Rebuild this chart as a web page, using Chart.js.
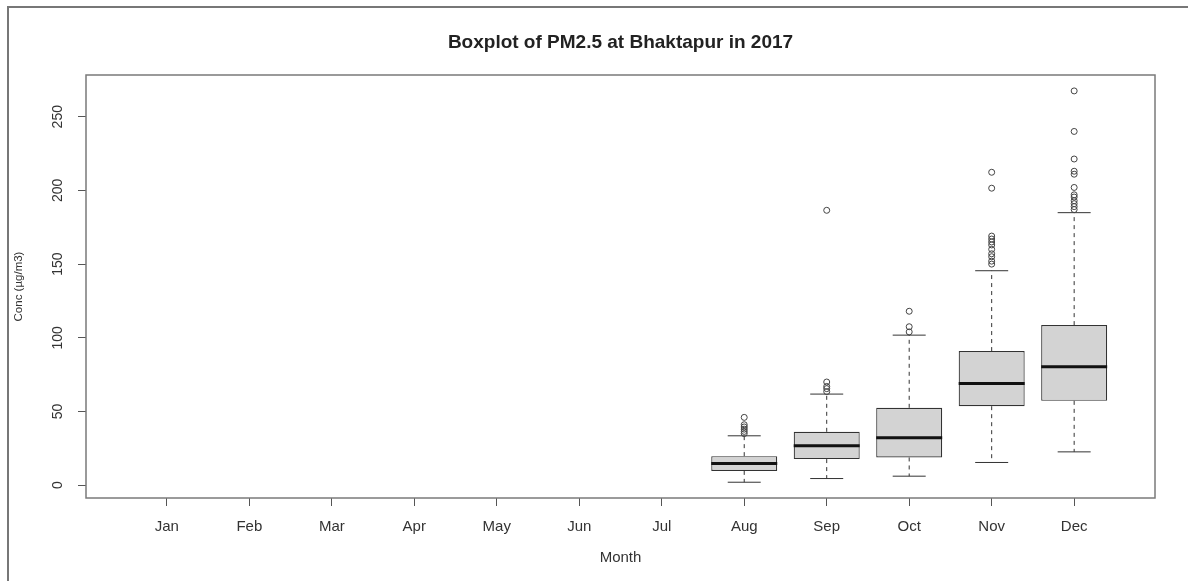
<!DOCTYPE html>
<html>
<head>
<meta charset="utf-8">
<script src="https://cdn.jsdelivr.net/npm/chart.js@4"></script>
<style>
  html, body { margin: 0; padding: 0; background: #fff; }
  #wrap { position: absolute; left: 0; top: 0; width: 1188px; height: 581px; }
  #edge { position: absolute; left: 7px; top: 6px; width: 1181px; height: 575px;
          border-left: 2px solid #777; border-top: 2px solid #777; pointer-events: none; box-sizing: border-box; }
</style>
</head>
<body>
<div id="wrap"><canvas id="c"></canvas></div>
<div id="edge"></div>
<script>
// ---- data ----
const months = ['Jan','Feb','Mar','Apr','May','Jun','Jul','Aug','Sep','Oct','Nov','Dec'];
const q1          = [null,null,null,null,null,null,null,  9.7, 17.7, 18.8,  53.6,  57.2];
const medians     = [null,null,null,null,null,null,null, 14.7, 26.7, 32.1,  69.0,  80.3];
const q3          = [null,null,null,null,null,null,null, 19.7, 36.2, 52.5,  91.0, 108.6];
const whiskerLow  = [null,null,null,null,null,null,null,  2.0,  4.5,  6.1,  15.4,  22.6];
const whiskerHigh = [null,null,null,null,null,null,null, 33.5, 61.8, 101.8, 145.5, 184.9];
const outliers = {
  Aug: [35, 36.5, 38, 39.5, 41, 46],
  Sep: [63.5, 65.5, 67, 70, 186.5],
  Oct: [104, 107.5, 118],
  Nov: [150, 152, 155, 157, 160, 163, 165, 167, 169, 201.5, 212.3],
  Dec: [187, 189, 191, 193, 195.5, 197, 202, 211, 213, 221.3, 240, 267.5]
};
const yTicks = [0, 50, 100, 150, 200, 250];
const yRange = [-8.7, 278.3];

// ---- styles ----
const BOX_HALF = 0.4;     // boxwex 0.8
const CAP_HALF = 0.2;
const FONT = "'Liberation Sans', Arial, sans-serif";
const TXT = '#333';

// ---- build datasets from the arrays ----
const boxData = [], medData = [], upData = [], loData = [], capData = [], outData = [];
months.forEach((m, i) => {
  const x = i + 1;
  if (q1[i] == null) return;
  boxData.push({x, y: [q1[i], q3[i]]});
  medData.push({x: x - BOX_HALF, y: medians[i]}, {x: x + BOX_HALF, y: medians[i]}, {x, y: null});
  upData.push({x, y: q3[i]}, {x, y: whiskerHigh[i]}, {x, y: null});
  loData.push({x, y: q1[i]}, {x, y: whiskerLow[i]}, {x, y: null});
  capData.push({x: x - CAP_HALF, y: whiskerHigh[i]}, {x: x + CAP_HALF, y: whiskerHigh[i]}, {x, y: null});
  capData.push({x: x - CAP_HALF, y: whiskerLow[i]}, {x: x + CAP_HALF, y: whiskerLow[i]}, {x, y: null});
  (outliers[m] || []).forEach(v => outData.push({x, y: v}));
});

const frame = {
  id: 'frame',
  afterDatasetsDraw(chart) {
    const {ctx, chartArea: a} = chart;
    ctx.save();
    ctx.strokeStyle = '#7a7a7a';
    ctx.lineWidth = 1.5;
    ctx.strokeRect(a.left, a.top, a.right - a.left, a.bottom - a.top);
    ctx.restore();
  }
};

const lineDefaults = {type: 'line', pointRadius: 0, spanGaps: false, fill: false, borderCapStyle: 'butt'};

new Chart(document.getElementById('c'), {
  data: {
    datasets: [
      Object.assign({}, lineDefaults, {data: medData, borderColor: '#111', borderWidth: 3, order: 1}),
      {type: 'scatter', data: outData, pointStyle: 'circle', pointRadius: 3, borderWidth: 1,
       borderColor: '#444', backgroundColor: 'rgba(0,0,0,0)', order: 0},
      Object.assign({}, lineDefaults, {data: upData, borderColor: '#333', borderWidth: 1, borderDash: [4, 4], order: 3}),
      Object.assign({}, lineDefaults, {data: loData, borderColor: '#333', borderWidth: 1, borderDash: [4, 4], order: 3}),
      Object.assign({}, lineDefaults, {data: capData, borderColor: '#333', borderWidth: 1, order: 3}),
      {type: 'bar', data: boxData, backgroundColor: '#d3d3d3', borderColor: '#333', borderWidth: 1.2,
       borderSkipped: false, barPercentage: 0.8, categoryPercentage: 1.0, order: 5}
    ]
  },
  options: {
    responsive: true,
    maintainAspectRatio: false,
    animation: false,
    layout: {padding: {left: 0, right: 33, top: 0, bottom: 0}},
    plugins: {
      legend: {display: false},
      tooltip: {enabled: false},
      title: {
        display: true, fullSize: false,
        text: 'Boxplot of PM2.5 at Bhaktapur in 2017',
        color: '#222',
        font: {family: FONT, size: 19, weight: 'bold', lineHeight: 1.2},
        padding: {top: 31.5, bottom: 20.7}
      }
    },
    scales: {
      x: {
        type: 'linear', min: 0.02, max: 12.98, offset: false,
        afterBuildTicks: s => { s.ticks = months.map((m, i) => ({value: i + 1})); },
        afterFit: s => { s.height = 83; },
        ticks: {
          callback: v => months[v - 1], autoSkip: false, maxRotation: 0, minRotation: 0,
          color: TXT, padding: 12, font: {family: FONT, size: 15}
        },
        grid: {display: true, offset: false, drawOnChartArea: false, drawTicks: true, tickLength: 8, color: '#555'},
        border: {display: false},
        title: {display: true, text: 'Month', color: TXT, font: {family: FONT, size: 15, lineHeight: 1.2},
                padding: {top: 0, bottom: 14}}
      },
      y: {
        type: 'linear', min: yRange[0], max: yRange[1],
        afterBuildTicks: s => { s.ticks = yTicks.map(v => ({value: v})); },
        afterFit: s => { s.width = 86; },
        ticks: {
          minRotation: 90, maxRotation: 90, crossAlign: 'center', autoSkip: false,
          color: TXT, padding: 8, font: {family: FONT, size: 14}
        },
        grid: {display: true, drawOnChartArea: false, drawTicks: true, tickLength: 8, color: '#555'},
        border: {display: false},
        title: {display: true, text: 'Conc (µg/m3)', color: TXT, font: {family: FONT, size: 11.5, lineHeight: 1.2},
                padding: {top: 12, bottom: 0}}
      }
    }
  },
  plugins: [frame]
});
</script>
</body>
</html>
